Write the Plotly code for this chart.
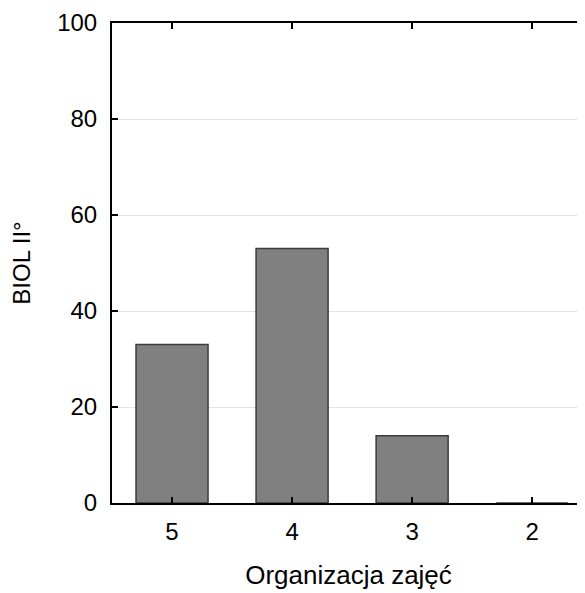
import plotly.graph_objects as go

categories = ["5", "4", "3", "2"]
values = [33, 53, 14, 0]
y_ticks = [0, 20, 40, 60, 80, 100]

fig = go.Figure()
fig.add_trace(go.Bar(
    x=categories, y=values, width=0.6,
    marker=dict(color="#808080", line=dict(color="#3c3c3c", width=1.5)),
))

font = dict(family="Liberation Sans, Arial, sans-serif", size=24, color="black")
xtitle_font = dict(family="Liberation Sans, Arial, sans-serif", size=26, color="black")

fig.update_layout(
    width=577, height=585,
    margin=dict(l=104, r=0, t=15, b=90),
    paper_bgcolor="white", plot_bgcolor="white",
    font=font, showlegend=False, bargap=0.4,
)
fig.update_xaxes(
    type="category", range=[-0.5, 3.44],
    showline=True, linecolor="black", linewidth=2, mirror="ticks",
    ticks="inside", ticklen=6, tickwidth=2, tickcolor="black",
    showgrid=False, ticklabelstandoff=6,
    title=dict(text="Organizacja zajęć", font=xtitle_font, standoff=22),
    tickfont=font,
)
fig.update_yaxes(
    range=[0, 100], tickvals=y_ticks,
    showline=True, linecolor="black", linewidth=2,
    ticks="inside", ticklen=6, tickwidth=2, tickcolor="black",
    showgrid=True, gridcolor="#e3e3e3", gridwidth=1,
    zeroline=False, ticklabelstandoff=8,
    title=dict(text="BIOL II°", font=font, standoff=20),
    tickfont=font,
)

fig.write_html("out.html")
